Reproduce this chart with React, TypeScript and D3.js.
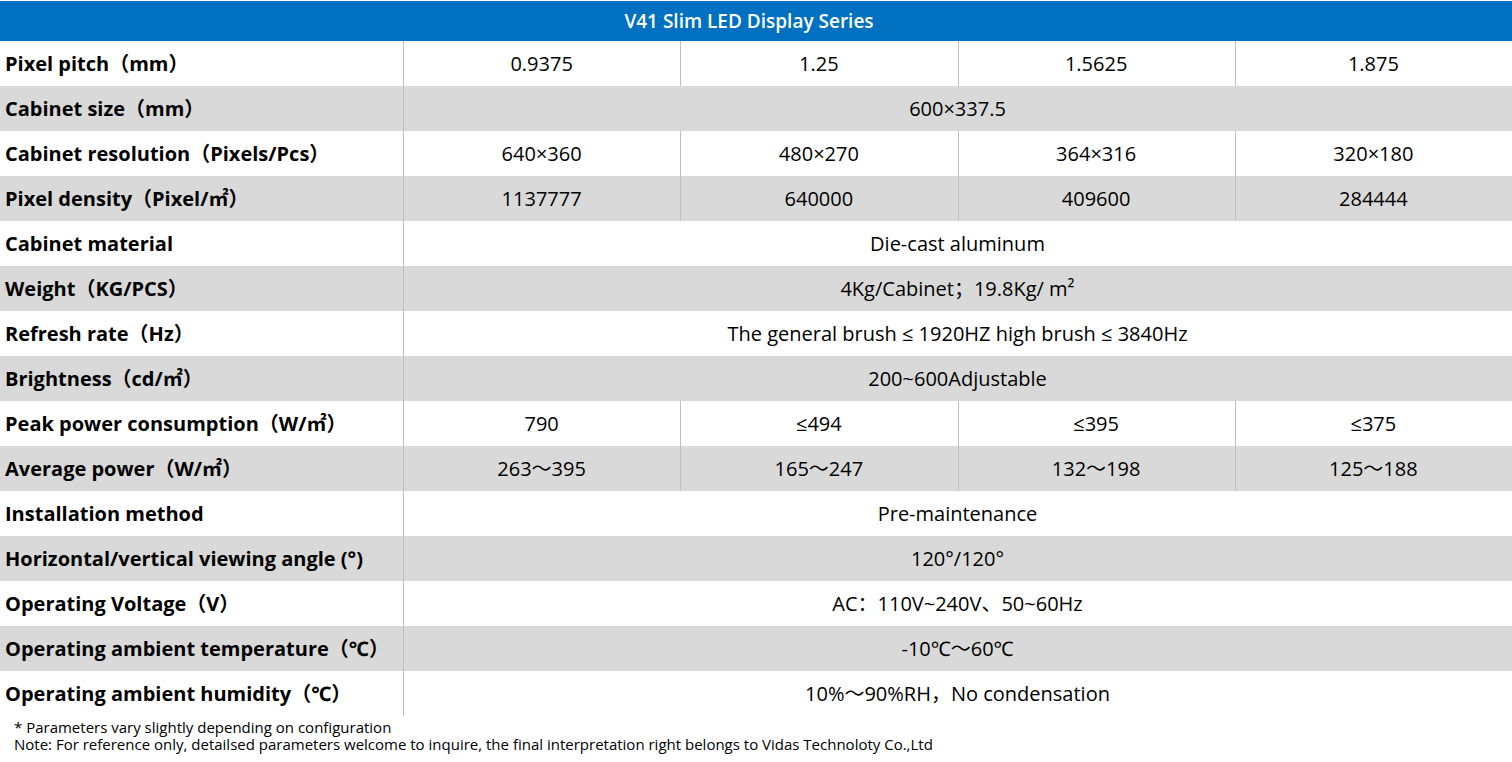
import React from "react";
import * as d3 from "d3";

const title = "V41 Slim LED Display Series";
const pitches = ["0.9375", "1.25", "1.5625", "1.875"];
const rowLabels = [
  "Pixel pitch（mm）",
  "Cabinet size（mm）",
  "Cabinet resolution（Pixels/Pcs）",
  "Pixel density（Pixel/㎡）",
  "Cabinet material",
  "Weight（KG/PCS）",
  "Refresh rate（Hz）",
  "Brightness（cd/㎡）",
  "Peak power consumption（W/㎡）",
  "Average power（W/㎡）",
  "Installation method",
  "Horizontal/vertical viewing angle (°)",
  "Operating Voltage（V）",
  "Operating ambient temperature（℃）",
  "Operating ambient humidity（℃）",
];
const rowValues: string[][] = [
  pitches,
  ["600×337.5"],
  ["640×360", "480×270", "364×316", "320×180"],
  ["1137777", "640000", "409600", "284444"],
  ["Die-cast aluminum"],
  ["4Kg/Cabinet；19.8Kg/ m²"],
  ["The general brush ≤ 1920HZ high brush ≤ 3840Hz"],
  ["200~600Adjustable"],
  ["790", "≤494", "≤395", "≤375"],
  ["263～395", "165～247", "132～198", "125～188"],
  ["Pre-maintenance"],
  ["120°/120°"],
  ["AC：110V~240V、50~60Hz"],
  ["-10℃～60℃"],
  ["10%～90%RH，No condensation"],
];
const notes = [
  "* Parameters vary slightly depending on configuration",
  "Note: For reference only, detailsed parameters welcome to inquire, the final interpretation right belongs to Vidas Technoloty Co.,Ltd",
];

const W = 1512;
const H = 762;
const headerTop = 1;
const headerBottom = 41;
const tableBottom = 716;
const labelColX = 403;
const font = "'Open Sans', 'Noto Sans', 'Noto Sans CJK SC', sans-serif";
const fs = 20;

export default function App() {
  const y = d3
    .scaleBand<number>()
    .domain(d3.range(rowLabels.length))
    .range([headerBottom, tableBottom]);
  const x = d3.scaleLinear().domain([0, pitches.length]).range([labelColX, W]);

  return (
    <div style={{ position: "absolute", left: 0, top: 0 }}>
      <svg width={W} height={H} style={{ display: "block", fontFamily: font }}>
        <rect x={0} y={0} width={W} height={H} fill="#ffffff" />
        <rect x={0} y={headerTop} width={W} height={headerBottom - headerTop} fill="#0070C0" />
        <text
          x={749}
          y={(headerTop + headerBottom) / 2}
          dy="0.35em"
          textAnchor="middle"
          fill="#ffffff"
          fontWeight={600}
          fontSize={19}
        >
          {title}
        </text>
        {rowLabels.map((label, i) => {
          const y0 = y(i)!;
          const bh = y.bandwidth();
          const cy = y0 + bh / 2;
          const vals = rowValues[i];
          return (
            <g key={i}>
              {i % 2 === 1 && <rect x={0} y={y0} width={W} height={bh} fill="#d9d9d9" />}
              <text x={5} y={cy} dy="0.35em" fontSize={fs} fontWeight="bold" fill="#000">
                {label}
              </text>
              {vals.length === 1 ? (
                <text
                  x={(x(0) + x(pitches.length)) / 2}
                  y={cy}
                  dy="0.35em"
                  textAnchor="middle"
                  fontSize={fs}
                  fill="#000"
                >
                  {vals[0]}
                </text>
              ) : (
                vals.map((v, j) => (
                  <g key={j}>
                    <text
                      x={(x(j) + x(j + 1)) / 2}
                      y={cy}
                      dy="0.35em"
                      textAnchor="middle"
                      fontSize={fs}
                      fill="#000"
                    >
                      {v}
                    </text>
                    {j > 0 && (
                      <line
                        x1={Math.round(x(j)) + 0.5}
                        x2={Math.round(x(j)) + 0.5}
                        y1={y0}
                        y2={y0 + bh}
                        stroke="#bfbfbf"
                        strokeWidth={1}
                      />
                    )}
                  </g>
                ))
              )}
            </g>
          );
        })}
        <line
          x1={labelColX + 0.5}
          x2={labelColX + 0.5}
          y1={headerBottom}
          y2={tableBottom}
          stroke="#bfbfbf"
          strokeWidth={1}
        />
        {notes.map((n, i) => (
          <text key={i} x={14} y={733 + i * 17} fontSize={15} fill="#000">
            {n}
          </text>
        ))}
      </svg>
    </div>
  );
}
